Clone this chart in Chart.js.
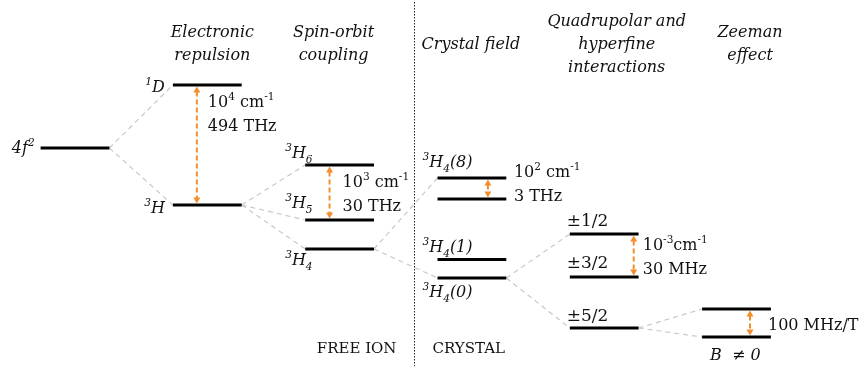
<!DOCTYPE html>
<html>
<head>
<meta charset="utf-8">
<script src="https://cdn.jsdelivr.net/npm/chart.js@4/dist/chart.umd.min.js"></script>
<style>
  html, body { margin: 0; padding: 0; background: #fff; }
  #wrap { width: 866px; height: 367px; }
</style>
</head>
<body>
<div id="wrap"><canvas id="levelChart" width="866" height="367"></canvas></div>
<script>
// stages (columns): 0 config, 1 electronic repulsion, 2 spin-orbit, 3 crystal field, 4 hyperfine, 5 zeeman
const levelNames  = ['4f^{2}', '^{1}D', '^{3}H', '^{3}H_{6}', '^{3}H_{5}', '^{3}H_{4}',
                     '^{3}H_{4}(8)', '', '^{3}H_{4}(1)', '^{3}H_{4}(0)', '±1/2', '±3/2', '±5/2', '', 'B  ≠ 0'];
const levelStage  = [0, 1, 1, 2, 2, 2, 3, 3, 3, 3, 4, 4, 4, 5, 5];
// relative energy (arbitrary units)
const levelEnergy = [219, 282, 162, 202, 147, 118, 189, 168, 107.5, 89, 133, 90, 39, 58, 30];

// which level splits into which
const splitFrom = [0, 0, 2, 2, 2, 5, 5, 9, 9, 12, 12];
const splitTo   = [1, 2, 3, 4, 5, 6, 9, 10, 12, 13, 14];

// splitting size arrows
const gapUpper  = [1, 3, 6, 10, 13];
const gapLower  = [2, 4, 7, 11, 14];
const gapLabels = [['10^{4} cm^{-1}', '494 THz'], ['10^{3} cm^{-1}', '30 THz'],
                   ['10^{2} cm^{-1}', '3 THz'], ['10^{-3}cm^{-1}', '30 MHz'], ['100 MHz/T']];

const stageTitles = [[], ['Electronic', 'repulsion'], ['Spin-orbit', 'coupling'], ['Crystal field'],
                     ['Quadrupolar and', 'hyperfine', 'interactions'], ['Zeeman', 'effect']];
const regionNames = ['FREE ION', 'CRYSTAL'];

// ---- layout / style ----
const HALF = 0.26;          // half width of a level line, in stage units
const DIVIDER = 2.566;      // free ion | crystal separator, in stage units
const ORANGE = '#f28e2b';
const SERIF = '"DejaVu Serif", serif';

// label placement, pixels relative to the level line ends
const labelPlace = [
  ['L', -6, 5, 'right'], ['L', -8, 7, 'right'], ['L', -8, 8, 'right'],
  ['L', -20, -7, 'left'], ['L', -20, -12, 'left'], ['L', -20, 16, 'left'],
  ['L', -15, -11, 'left'], null, ['L', -15, -7.5, 'left'], ['L', -15, 19, 'left'],
  ['L', -3, -8, 'left'], ['L', -3, -9, 'left'], ['L', -3, -7, 'left'],
  null, ['L', 8, 23, 'left']
];
const arrowOffset = [-0.079, -0.076, 0.121, 0.223, 0.102];   // stage units from column centre
const gapTextDx = [11, 13, 26, 9, 18];
const gapTextDy = [22, 22, -1, 16, 21];
const titleDx = [0, 5, -6, -1, 12.5, 13.5];
const titleTop = [0, 37, 37, 49, 26, 37];

const datasets = [];
levelStage.forEach((s, i) => {
  datasets.push({
    data: [{ x: s - HALF, y: levelEnergy[i] }, { x: s + HALF, y: levelEnergy[i] }],
    borderColor: '#000', borderWidth: 3, borderCapStyle: 'butt', pointRadius: 0, order: 0
  });
});
splitFrom.forEach((f, k) => {
  const t = splitTo[k];
  datasets.push({
    data: [{ x: levelStage[f] + HALF, y: levelEnergy[f] }, { x: levelStage[t] - HALF, y: levelEnergy[t] }],
    borderColor: '#c8c8c8', borderWidth: 1.2, borderDash: [5, 4], pointRadius: 0, order: 2
  });
});
datasets.push({
  data: [{ x: DIVIDER, y: 365 }, { x: DIVIDER, y: 1 }],
  borderColor: '#222', borderWidth: 1, borderDash: [1.5, 1.5], pointRadius: 0, order: 3
});

function parseRich(s) {
  const out = [];
  const re = /([\^_])\{([^}]*)\}|([^\^_]+)/g;
  let m;
  while ((m = re.exec(s))) {
    if (m[1]) out.push({ t: m[2], mode: m[1] === '^' ? 'sup' : 'sub' });
    else out.push({ t: m[3], mode: '' });
  }
  return out;
}

function drawRich(ctx, s, x, y, size, italic, align) {
  const parts = parseRich(s);
  const fontFor = p => (italic ? 'italic ' : '') + (p.mode ? size * 0.66 : size) + 'px ' + SERIF;
  let total = 0;
  parts.forEach(p => { ctx.font = fontFor(p); p.w = ctx.measureText(p.t).width; total += p.w; });
  let cx = align === 'right' ? x - total : align === 'center' ? x - total / 2 : x;
  ctx.textBaseline = 'alphabetic';
  ctx.textAlign = 'left';
  parts.forEach(p => {
    ctx.font = fontFor(p);
    const dy = p.mode === 'sup' ? -size * 0.42 : p.mode === 'sub' ? size * 0.3 : 0;
    ctx.fillText(p.t, cx, y + dy);
    cx += p.w;
  });
}

const annotations = {
  id: 'annotations',
  afterDatasetsDraw(chart) {
    const ctx = chart.ctx;
    const xs = chart.scales.x, ys = chart.scales.y;
    ctx.save();
    ctx.fillStyle = '#111';

    // level names
    levelNames.forEach((name, i) => {
      const pl = labelPlace[i];
      if (!pl || !name) return;
      const xEnd = xs.getPixelForValue(levelStage[i] + (pl[0] === 'L' ? -HALF : HALF));
      const yL = ys.getPixelForValue(levelEnergy[i]);
      const italic = !name.startsWith('±');
      drawRich(ctx, name, xEnd + pl[1], yL + pl[2], italic ? 16 : 17, italic, pl[3]);
    });

    // splitting arrows + sizes
    gapUpper.forEach((u, k) => {
      const l = gapLower[k];
      const ax = xs.getPixelForValue(levelStage[u] + arrowOffset[k]);
      const yT = ys.getPixelForValue(levelEnergy[u]) + 1.5;
      const yB = ys.getPixelForValue(levelEnergy[l]) - 1.5;
      ctx.strokeStyle = ORANGE;
      ctx.fillStyle = ORANGE;
      ctx.lineWidth = 2;
      ctx.setLineDash([5, 3]);
      ctx.beginPath();
      ctx.moveTo(ax, yT + 5);
      ctx.lineTo(ax, yB - 5);
      ctx.stroke();
      ctx.setLineDash([]);
      ctx.beginPath();
      ctx.moveTo(ax, yT); ctx.lineTo(ax - 3.5, yT + 6); ctx.lineTo(ax + 3.5, yT + 6); ctx.closePath();
      ctx.moveTo(ax, yB); ctx.lineTo(ax - 3.5, yB - 6); ctx.lineTo(ax + 3.5, yB - 6); ctx.closePath();
      ctx.fill();

      ctx.fillStyle = '#111';
      const yU = ys.getPixelForValue(levelEnergy[u]);
      gapLabels[k].forEach((txt, j) => {
        drawRich(ctx, txt, ax + gapTextDx[k], yU + gapTextDy[k] + j * 23.5, 16, false, 'left');
      });
    });

    // stage titles
    stageTitles.forEach((lines, s) => {
      const cx = xs.getPixelForValue(s) + titleDx[s];
      lines.forEach((ln, j) => drawRich(ctx, ln, cx, titleTop[s] + j * 23, 16, true, 'center'));
    });

    // region names
    drawRich(ctx, regionNames[0], xs.getPixelForValue(DIVIDER) - 18, 353, 15, false, 'right');
    drawRich(ctx, regionNames[1], xs.getPixelForValue(DIVIDER) + 18, 353, 15, false, 'left');
    ctx.restore();
  }
};

new Chart(document.getElementById('levelChart').getContext('2d'), {
  type: 'scatter',
  data: { datasets },
  options: {
    responsive: false,
    animation: false,
    showLine: true,
    layout: { padding: 0 },
    plugins: { legend: { display: false }, tooltip: { enabled: false } },
    scales: {
      x: { type: 'linear', display: false, min: -0.5669, max: 5.9788 },
      y: { type: 'linear', display: false, min: 0, max: 367 }
    }
  },
  plugins: [annotations]
});
</script>
</body>
</html>
